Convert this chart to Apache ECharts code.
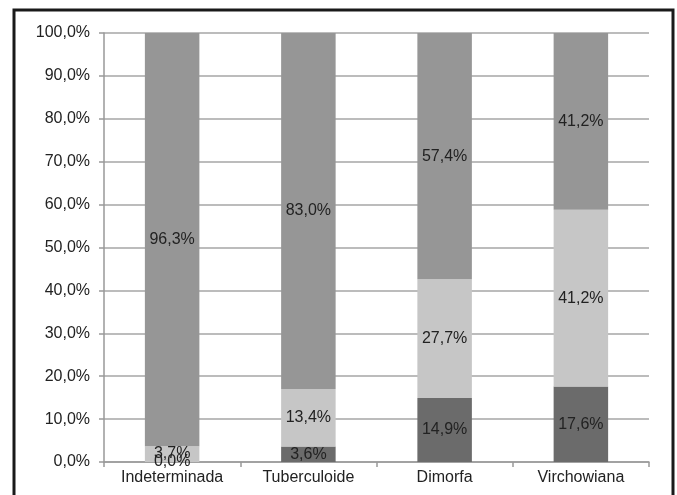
<!DOCTYPE html>
<html>
<head>
<meta charset="utf-8">
<script src="https://cdn.jsdelivr.net/npm/echarts@6/dist/echarts.min.js"></script>
<style>
  html, body { margin: 0; padding: 0; background: #fff; }
  #chart { width: 677px; height: 495px; }
</style>
</head>
<body>
<div id="chart"></div>
<script>
// Clinical forms (categories) and share of each group, in percent
const categories = ['Indeterminada', 'Tuberculoide', 'Dimorfa', 'Virchowiana'];
const seriesLow = [0.0, 3.6, 14.9, 17.6];
const seriesMid = [3.7, 13.4, 27.7, 41.2];
const seriesHigh = [96.3, 83.0, 57.4, 41.2];

const fmt = v => v.toFixed(1).replace('.', ',') + '%';
const font = '"Liberation Sans", Arial, sans-serif';

const labelStyle = {
  show: true,
  position: 'inside',
  color: '#222',
  fontSize: 16,
  fontFamily: font,
  formatter: p => fmt(p.value)
};

function makeSeries(name, data, color) {
  return {
    name: name,
    type: 'bar',
    stack: 'total',
    data: data,
    barWidth: '40%',
    itemStyle: { color: color },
    label: labelStyle
  };
}

const chart = echarts.init(document.getElementById('chart'), null, { renderer: 'canvas' });
chart.setOption({
  animation: false,
  backgroundColor: '#fff',
  grid: { left: 104, right: 28, top: 33, bottom: 33, containLabel: false },
  xAxis: {
    type: 'category',
    data: categories,
    axisLine: { lineStyle: { color: '#999', width: 1.5 } },
    axisTick: { show: true, length: 5, alignWithLabel: false, lineStyle: { color: '#999', width: 1.5 } },
    axisLabel: { color: '#222', fontSize: 16, fontFamily: font, margin: 8 }
  },
  yAxis: {
    type: 'value',
    min: 0,
    max: 100,
    interval: 10,
    axisLine: { show: true, lineStyle: { color: '#999', width: 1.5 } },
    axisTick: { show: true, length: 5, lineStyle: { color: '#999', width: 1.5 } },
    axisLabel: { color: '#222', fontSize: 16, fontFamily: font, margin: 14, formatter: v => fmt(v) },
    splitLine: { show: true, lineStyle: { color: '#a6a6a6', width: 1.5 } }
  },
  series: [
    makeSeries('low', seriesLow, '#6b6b6b'),
    makeSeries('mid', seriesMid, '#c6c6c6'),
    makeSeries('high', seriesHigh, '#969696')
  ],
  graphic: [{
    type: 'rect',
    shape: { x: 14, y: 10, width: 659, height: 500 },
    style: { fill: 'none', stroke: '#1a1a1a', lineWidth: 3 },
    silent: true
  }]
});
</script>
</body>
</html>
